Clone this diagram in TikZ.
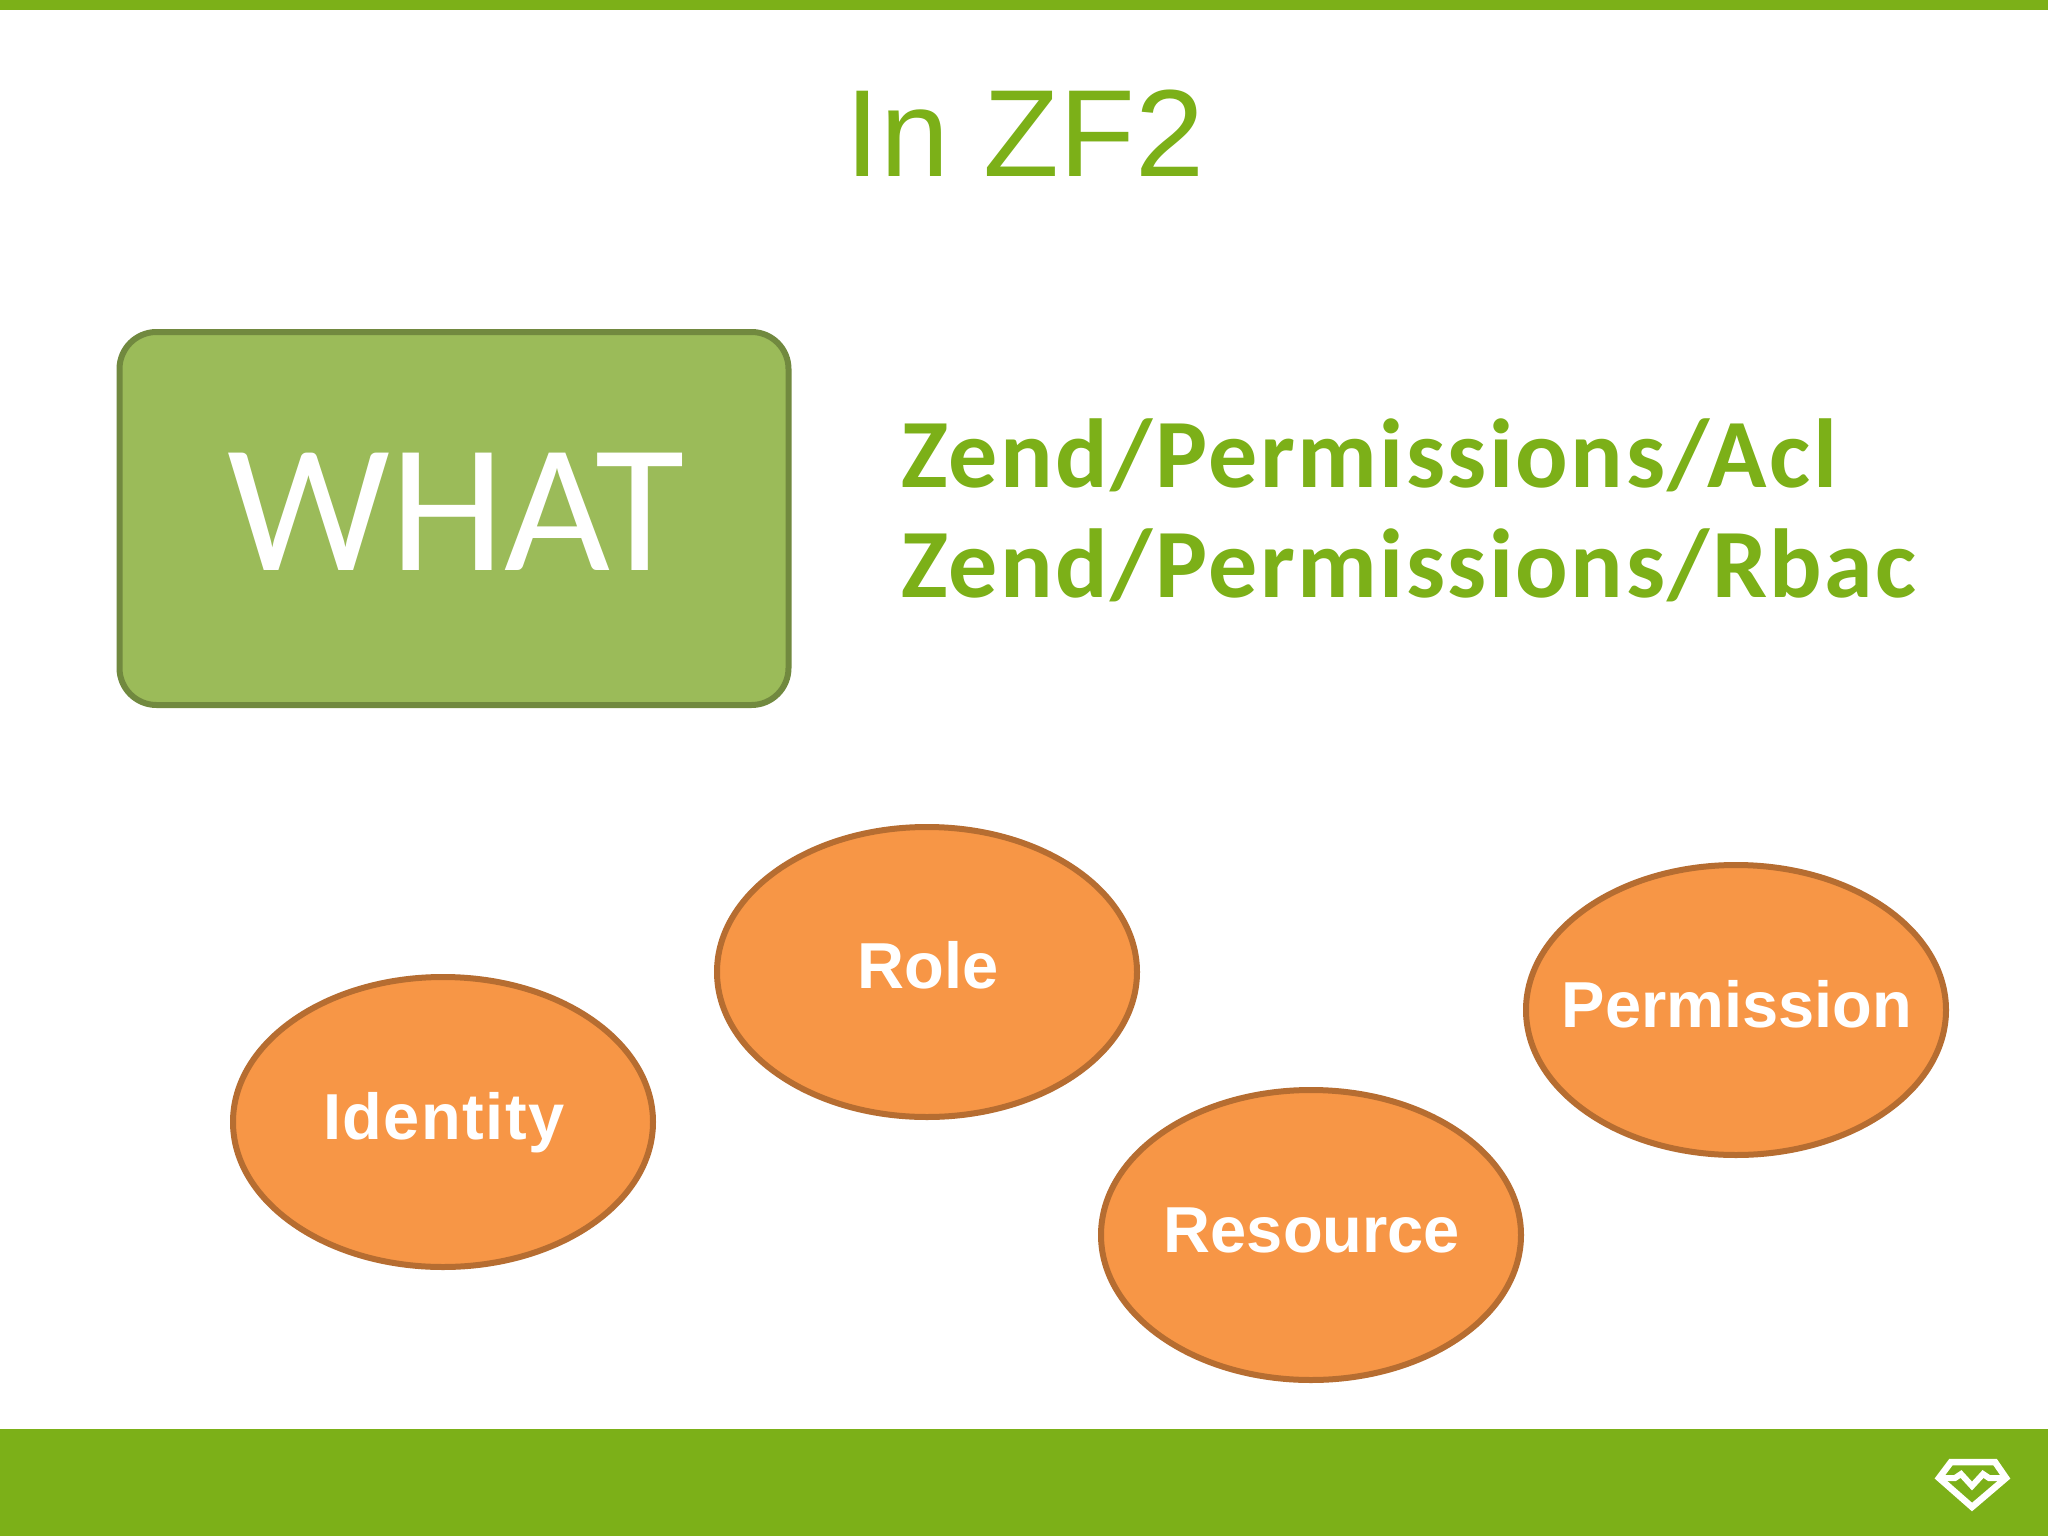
\documentclass[tikz,border=0pt]{standalone}
\usepackage{fontspec}
\usetikzlibrary{shapes.geometric}
\setmainfont{Liberation Sans}
\newfontfamily\carl{Carlito}
\newfontfamily\carlb[LetterSpace=2.5]{Carlito Bold}
\definecolor{barg}{HTML}{7CB018}
\definecolor{boxf}{HTML}{9BBB59}
\definecolor{boxd}{HTML}{71893F}
\definecolor{ellf}{HTML}{F79646}
\definecolor{elld}{HTML}{B66D31}
\tikzset{
  x=1pt,y=-1pt,
  oval/.style={ellipse,draw=elld,fill=ellf,line width=6pt,minimum width=420pt,minimum height=290pt,inner sep=0pt},
  ovaltext/.style={text=white,font=\fontsize{65pt}{70pt}\selectfont\bfseries,anchor=base,inner sep=0pt},
  zendline/.style={text=barg,font=\carlb\fontsize{98pt}{100pt}\selectfont,anchor=base west,inner sep=0pt}
}
\begin{document}
\begin{tikzpicture}
\useasboundingbox (0,0) rectangle (2048,1536);
\fill[white] (0,0) rectangle (2048,1536);
\fill[barg] (0,0) rectangle (2048,10);
\fill[barg] (0,1429) rectangle (2048,1536);
\node[text=barg,font=\fontsize{124pt}{128pt}\selectfont,anchor=base,inner sep=0pt] (title) at (1025,176) {In ZF2};
\node[draw=boxd,fill=boxf,line width=6pt,rounded corners=37pt,minimum width=669pt,minimum height=373pt,inner sep=0pt] (what) at (454,518.5) {};
\node[text=white,font=\carl\fontsize{183pt}{190pt}\selectfont,anchor=base,inner sep=0pt] (whatt) at (456,570) {WHAT};
\node[zendline] (acl) at (901,487) {Zend/Permissions/Acl};
\node[zendline] (rbac) at (901,597) {Zend/Permissions/Rbac};
\node[oval] (role) at (927,972) {};
\node[oval] (identity) at (443,1122) {};
\node[oval] (permission) at (1736,1010) {};
\node[oval] (resource) at (1311,1235) {};
\node[ovaltext] (rolet) at (928,988) {Role};
\node[ovaltext] (identityt) at (444,1139) {\addfontfeature{LetterSpace=2.3}Identity};
\node[ovaltext] (permissiont) at (1737,1027) {Permission};
\node[ovaltext] (resourcet) at (1312,1252) {Resource};
\draw[white,line width=6.5pt,line join=miter] (1951,1462) -- (1995,1462) -- (2006,1478) -- (1972,1507) -- (1939,1478) -- cycle;
\draw[white,line width=6pt,line join=miter] (1939,1478) -- (1955,1478) -- (1961,1474) -- (1972,1486) -- (1983,1474) -- (1989,1478) -- (2006,1478);
\end{tikzpicture}
\end{document}
